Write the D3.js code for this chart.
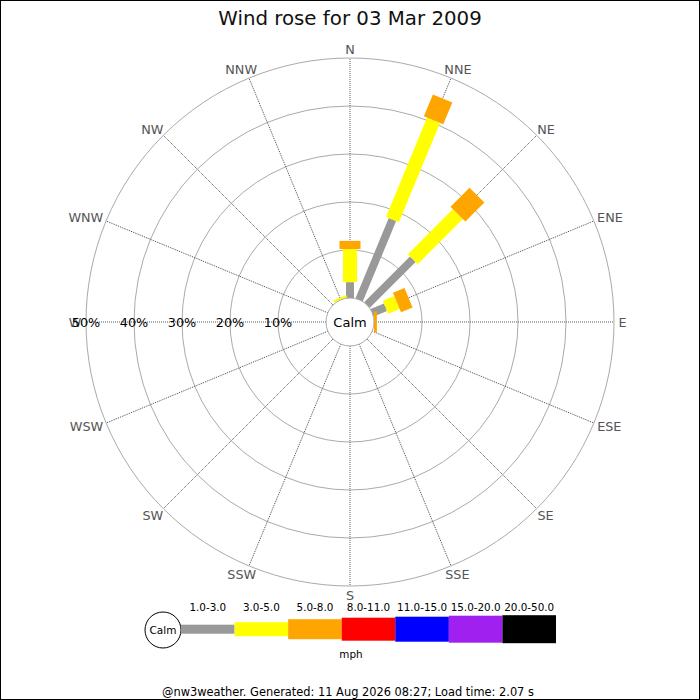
<!DOCTYPE html>
<html>
<head>
<meta charset="utf-8">
<script src="https://cdn.jsdelivr.net/npm/d3@7"></script>
<style>
  body { margin: 0; background: #fff; }
  svg { display: block; font-family: "DejaVu Sans", sans-serif; }
</style>
</head>
<body>
<div id="rose"></div>
<script>
// Wind rose, frequencies in % per direction and speed band

const directions = ['N', 'NNE', 'NE', 'ENE', 'E', 'ESE', 'SE', 'SSE',
                    'S', 'SSW', 'SW', 'WSW', 'W', 'WNW', 'NW', 'NNW'];
const speedRanges = ['1.0-3.0', '3.0-5.0', '5.0-8.0', '8.0-11.0', '11.0-15.0', '15.0-20.0', '20.0-50.0'];

// one array per speed band, 16 directions each
const freq1to3   = [3.3, 18.1, 13.5, 3.0, 0, 0, 0, 0, 0, 0, 0, 0, 0, 0, 0, 0];
const freq3to5   = [6.9, 22.4, 13.3, 2.6, 0, 0, 0, 0, 0, 0, 0, 0, 0, 0, 0, 0.5];
const freq5to8   = [1.7, 4.9, 5.6, 2.6, 0.6, 0, 0, 0, 0, 0, 0, 0, 0, 0, 0, 0];
const freq8to11  = [0, 0, 0, 0, 0, 0, 0, 0, 0, 0, 0, 0, 0, 0, 0, 0];
const freq11to15 = [0, 0, 0, 0, 0, 0, 0, 0, 0, 0, 0, 0, 0, 0, 0, 0];
const freq15to20 = [0, 0, 0, 0, 0, 0, 0, 0, 0, 0, 0, 0, 0, 0, 0, 0];
const freq20to50 = [0, 0, 0, 0, 0, 0, 0, 0, 0, 0, 0, 0, 0, 0, 0, 0];

const ringTicks = [10, 20, 30, 40, 50];

const titleText = 'Wind rose for 03 Mar 2009';
const unitText = 'mph';
const footerText = '@nw3weather. Generated: 11 Aug 2026 08:27; Load time: 2.07 s';

const series = [freq1to3, freq3to5, freq5to8, freq8to11, freq11to15, freq15to20, freq20to50];
const bandColors = ['#999999', '#ffff00', '#ffa500', '#ff0000', '#0000ff', '#a020f0', '#000000'];
const bandWidths = [8, 14, 21, 23, 25, 27, 28];

const width = 700, height = 700;
const cx = 350, cy = 322;
const calmR = 24, outerR = 264;

const svg = d3.select('#rose').append('svg')
    .attr('width', width)
    .attr('height', height);

svg.append('rect')
    .attr('x', 0.5).attr('y', 0.5)
    .attr('width', width - 1).attr('height', height - 1)
    .attr('fill', '#fff').attr('stroke', '#000');

// radius scale: % -> pixels, starting at the calm circle
const r = d3.scaleLinear().domain([0, 50]).range([calmR, outerR]);
const angle = d3.scaleBand().domain(directions).range([0, 360]).align(0).paddingInner(0).paddingOuter(0);
const ang = d => angle(d); // degrees from north, clockwise

svg.append('text')
    .attr('x', cx).attr('y', 25)
    .attr('text-anchor', 'middle')
    .attr('font-size', 19.8)
    .attr('fill', '#111')
    .text(titleText);

const plot = svg.append('g').attr('transform', `translate(${cx},${cy})`);

// rings
plot.selectAll('circle.ring')
    .data(ringTicks)
    .enter().append('circle')
    .attr('class', 'ring')
    .attr('r', d => r(d))
    .attr('fill', 'none')
    .attr('stroke', '#aaaaaa')
    .attr('stroke-width', 1);

// spokes
plot.selectAll('line.spoke')
    .data(directions)
    .enter().append('line')
    .attr('class', 'spoke')
    .attr('transform', d => `rotate(${ang(d)})`)
    .attr('x1', 0).attr('y1', -calmR)
    .attr('x2', 0).attr('y2', -outerR)
    .attr('stroke', '#333')
    .attr('stroke-width', 0.8)
    .attr('stroke-dasharray', '1,1');

// compass labels
const compass = plot.append('g');
directions.forEach(function(d) {
    const a = ang(d) * Math.PI / 180;
    const s = Math.sin(a), c = Math.cos(a);
    const t = compass.append('text')
	.attr('font-size', 12.8)
	.attr('fill', '#555')
	.attr('text-anchor', 'middle')
	.text(d);
    const hw = t.node().getComputedTextLength() / 2;
    const hh = 4.6;
    const R = 268.5;
    const x = R * s + hw * s;
    const y = -R * c - hh * c;
    t.attr('x', x).attr('y', y + hh);
});

// bars, stacked outwards per direction
const stacked = directions.map(function(d, i) {
    let cum = 0;
    return series.map(function(arr, k) {
	const seg = {dir: d, band: k, r0: cum, r1: cum + arr[i]};
	cum += arr[i];
	return seg;
    }).filter(s => s.r1 > s.r0);
});

const bars = plot.append('g');
stacked.forEach(function(segs) {
    const g = bars.append('g').attr('transform', segs.length ? `rotate(${ang(segs[0].dir)})` : null);
    g.selectAll('rect')
	.data(segs)
	.enter().append('rect')
	.attr('x', s => -bandWidths[s.band] / 2)
	.attr('width', s => bandWidths[s.band])
	.attr('y', s => -r(s.r1))
	.attr('height', s => r(s.r1) - r(s.r0))
	.attr('fill', s => bandColors[s.band]);
});

// calm circle
plot.append('circle')
    .attr('r', calmR)
    .attr('fill', '#fff')
    .attr('stroke', '#aaaaaa');
plot.append('text')
    .attr('y', 5)
    .attr('text-anchor', 'middle')
    .attr('font-size', 13)
    .attr('fill', '#000')
    .text('Calm');

// percentage labels along the west axis
plot.selectAll('text.pct')
    .data(ringTicks)
    .enter().append('text')
    .attr('class', 'pct')
    .attr('x', d => -r(d))
    .attr('y', 5)
    .attr('text-anchor', 'middle')
    .attr('font-size', 12.8)
    .attr('fill', '#000')
    .text(d => d + '%');

// legend
const legY = 629.2;
const legX0 = 181, legX1 = 556;
const lx = d3.scaleBand().domain(speedRanges).range([legX0, legX1]);
const legend = svg.append('g');
legend.append('circle')
    .attr('cx', 163).attr('cy', 630).attr('r', 18)
    .attr('fill', '#fff').attr('stroke', '#000');
legend.append('text')
    .attr('x', 163).attr('y', 634)
    .attr('text-anchor', 'middle')
    .attr('font-size', 10.5)
    .text('Calm');
legend.selectAll('rect')
    .data(speedRanges)
    .enter().append('rect')
    .attr('x', d => lx(d))
    .attr('width', lx.bandwidth())
    .attr('y', (d, i) => legY - [9, 14, 20, 23, 25, 27, 28][i] / 2)
    .attr('height', (d, i) => [9, 14, 20, 23, 25, 27, 28][i])
    .attr('fill', (d, i) => bandColors[i]);
legend.selectAll('text.rng')
    .data(speedRanges)
    .enter().append('text')
    .attr('class', 'rng')
    .attr('x', d => lx(d) + lx.bandwidth() / 2)
    .attr('y', 611)
    .attr('text-anchor', 'middle')
    .attr('font-size', 10.4)
    .text(d => d);
legend.append('text')
    .attr('x', 351).attr('y', 658)
    .attr('text-anchor', 'middle')
    .attr('font-size', 10.4)
    .text(unitText);

svg.append('text')
    .attr('x', 348).attr('y', 696)
    .attr('text-anchor', 'middle')
    .attr('font-size', 11.4)
    .text(footerText);
</script>
</body>
</html>
